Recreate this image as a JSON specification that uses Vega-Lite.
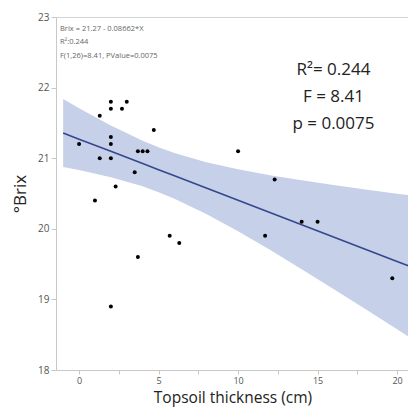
{
  "$schema": "https://vega.github.io/schema/vega-lite/v6.json",
  "width": 353,
  "height": 353,
  "autosize": "none",
  "padding": {"left": 56, "top": 17, "right": 0, "bottom": 42},
  "background": "white",
  "config": {
    "view": {"stroke": "#d4d4d4", "strokeWidth": 1},
    "font": "Open Sans"
  },
  "datasets": {
    "pts": [
      {"x": 0, "y": 21.2}, {"x": 1.0, "y": 20.4}, {"x": 1.3, "y": 21.0}, {"x": 1.3, "y": 21.6},
      {"x": 2.0, "y": 21.8}, {"x": 2.0, "y": 21.7}, {"x": 2.0, "y": 21.3}, {"x": 2.0, "y": 21.2},
      {"x": 2.0, "y": 21.0}, {"x": 2.0, "y": 18.9}, {"x": 2.3, "y": 20.6}, {"x": 2.7, "y": 21.7},
      {"x": 3.0, "y": 21.8}, {"x": 3.5, "y": 20.8}, {"x": 3.7, "y": 21.1}, {"x": 4.0, "y": 21.1},
      {"x": 4.3, "y": 21.1}, {"x": 4.7, "y": 21.4}, {"x": 3.7, "y": 19.6}, {"x": 5.7, "y": 19.9},
      {"x": 6.3, "y": 19.8}, {"x": 10.0, "y": 21.1}, {"x": 11.7, "y": 19.9}, {"x": 12.3, "y": 20.7},
      {"x": 14.0, "y": 20.1}, {"x": 15.0, "y": 20.1}, {"x": 19.7, "y": 19.3}
    ],
    "fit": [
      {"x": -1.0, "fit": 21.357, "lo": 20.875, "hi": 21.839},
      {"x": 0, "fit": 21.27, "lo": 20.832, "hi": 21.708},
      {"x": 2, "fit": 21.097, "lo": 20.731, "hi": 21.463},
      {"x": 4, "fit": 20.924, "lo": 20.601, "hi": 21.247},
      {"x": 5, "fit": 20.837, "lo": 20.519, "hi": 21.155},
      {"x": 6, "fit": 20.750, "lo": 20.427, "hi": 21.073},
      {"x": 8, "fit": 20.577, "lo": 20.211, "hi": 20.943},
      {"x": 10, "fit": 20.404, "lo": 19.966, "hi": 20.842},
      {"x": 12, "fit": 20.231, "lo": 19.702, "hi": 20.760},
      {"x": 14, "fit": 20.057, "lo": 19.427, "hi": 20.687},
      {"x": 16, "fit": 19.884, "lo": 19.148, "hi": 20.620},
      {"x": 18, "fit": 19.711, "lo": 18.864, "hi": 20.558},
      {"x": 20, "fit": 19.538, "lo": 18.578, "hi": 20.498},
      {"x": 20.8, "fit": 19.468, "lo": 18.462, "hi": 20.474}
    ],
    "small": [
      {"x": -1.2, "y": 22.83, "t": "Brix = 21.27 - 0.08662*X"},
      {"x": -1.2, "y": 22.65, "t": "R²:0.244"},
      {"x": -1.2, "y": 22.45, "t": "F(1,26)=8.41, PValue=0.0075"}
    ],
    "big": [
      {"x": 16.0, "y": 22.25, "t": "R²= 0.244"},
      {"x": 16.0, "y": 21.86, "t": "F = 8.41"},
      {"x": 16.0, "y": 21.48, "t": "p = 0.0075"}
    ]
  },
  "encoding": {
    "x": {
      "field": "x", "type": "quantitative",
      "scale": {"domain": [-1.45, 20.75], "nice": false, "zero": false},
      "axis": {
        "title": "Topsoil thickness (cm)",
        "values": [0, 2.5, 5, 7.5, 10, 12.5, 15, 17.5, 20],
        "labelExpr": "datum.value % 5 == 0 ? datum.label : ''",
        "grid": false, "domainColor": "#c8c8c8", "tickColor": "#c8c8c8", "tickSize": 4,
        "labelColor": "#555555", "labelFontSize": 9, "labelPadding": 2,
        "titleFontSize": 15.5, "titleFontWeight": "normal", "titleColor": "#222222", "titlePadding": 5
      }
    },
    "y": {
      "type": "quantitative",
      "scale": {"domain": [18, 23], "nice": false, "zero": false},
      "axis": {
        "title": "°Brix",
        "format": "d",
        "values": [18, 18.5, 19, 19.5, 20, 20.5, 21, 21.5, 22, 22.5, 23],
        "labelExpr": "datum.value % 1 == 0 ? datum.label : ''",
        "grid": false, "domainColor": "#c8c8c8", "tickColor": "#c8c8c8", "tickSize": 5,
        "labelColor": "#555555", "labelFontSize": 10, "labelPadding": 2,
        "titleFontSize": 17, "titleFontWeight": "normal", "titleColor": "#222222", "titlePadding": 8
      }
    }
  },
  "layer": [
    {
      "data": {"name": "fit"},
      "mark": {"type": "area", "color": "#c6d0e8", "opacity": 1},
      "encoding": {"y": {"field": "lo"}, "y2": {"field": "hi"}}
    },
    {
      "data": {"name": "fit"},
      "mark": {"type": "line", "color": "#34478f", "strokeWidth": 1.6},
      "encoding": {"y": {"field": "fit"}}
    },
    {
      "data": {"name": "pts"},
      "mark": {"type": "circle", "color": "black", "opacity": 1, "size": 16},
      "encoding": {"y": {"field": "y"}}
    },
    {
      "data": {"name": "small"},
      "mark": {"type": "text", "align": "left", "baseline": "middle", "fontSize": 7.5, "color": "#666666"},
      "encoding": {"y": {"field": "y"}, "text": {"field": "t"}}
    },
    {
      "data": {"name": "big"},
      "mark": {"type": "text", "align": "center", "baseline": "middle", "fontSize": 17, "color": "#222222"},
      "encoding": {"y": {"field": "y"}, "text": {"field": "t"}}
    }
  ]
}
